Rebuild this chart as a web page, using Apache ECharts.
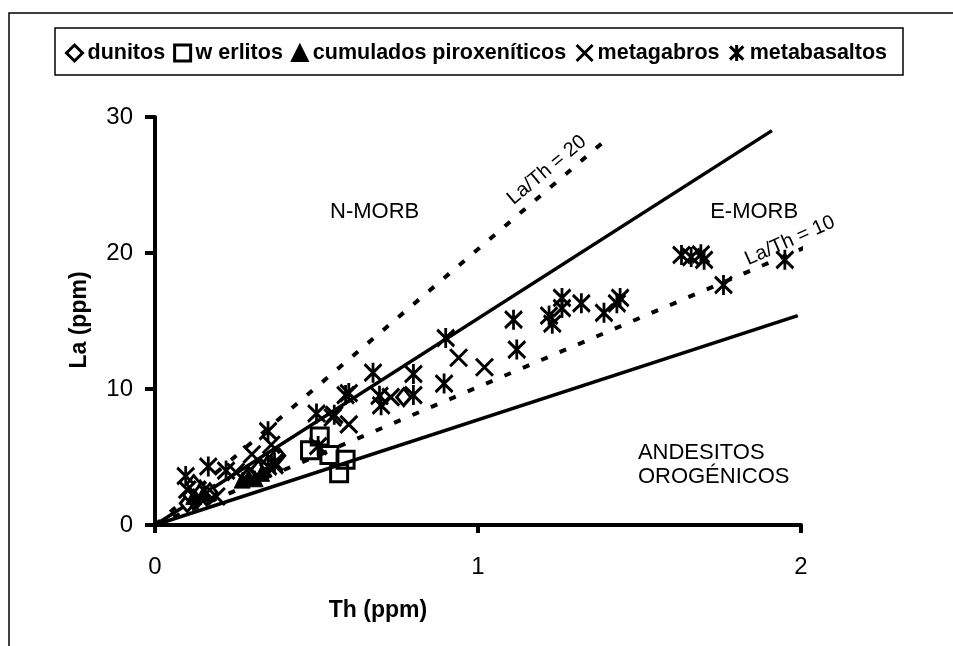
<!DOCTYPE html>
<html><head><meta charset="utf-8">
<script src="https://cdn.jsdelivr.net/npm/echarts@6/dist/echarts.min.js"></script>
<style>html,body{margin:0;padding:0;background:#fff}#c{width:953px;height:646px}</style>
</head><body><div id="c"></div>
<script>
// ---- data (Th ppm, La ppm) ----
const seriesNames = ['dunitos', 'w erlitos', 'cumulados piroxeníticos', 'metagabros', 'metabasaltos'];
const dunitos = [[0.10,1.6],[0.11,2.2],[0.13,1.9],[0.14,2.6],[0.16,2.1],[0.17,2.4],[0.12,3.0],[0.29,3.6],[0.32,4.1],[0.35,4.4],[0.38,5.1],[0.77,9.4]];
const werlitos = [[0.51,6.5],[0.48,5.5],[0.54,5.15],[0.59,4.8],[0.57,3.8]];
const cumulados = [[0.27,3.3],[0.29,3.5],[0.31,3.4],[0.33,3.8],[0.12,2.1],[0.15,2.3]];
const metagabros = [[0.10,2.6],[0.16,2.35],[0.19,2.1],[0.25,3.9],[0.30,5.2],[0.36,5.9],[0.37,4.4],[0.55,7.9],[0.60,7.4],[0.73,9.4],[0.94,12.3],[1.02,11.6]];
const metabasaltos = [[0.095,3.6],[0.165,4.3],[0.22,4.0],[0.35,4.3],[0.37,4.6],[0.35,6.9],[0.50,8.2],[0.505,5.8],[0.555,8.1],[0.60,9.7],[0.59,9.55],[0.675,11.2],[0.695,9.5],[0.70,8.8],[0.80,11.1],[0.80,9.55],[0.90,13.75],[0.895,10.4],[1.11,15.1],[1.12,12.9],[1.22,15.4],[1.23,14.8],[1.26,16.7],[1.26,15.95],[1.32,16.3],[1.39,15.6],[1.44,16.7],[1.43,16.3],[1.63,19.85],[1.66,19.7],[1.70,19.5],[1.69,19.9],[1.76,17.65],[1.95,19.5]];
// reference lines (start, end)
const lineUpperSolid = [[0,0],[1.91,29]];
const lineLaTh20 = [[0,0],[1.39,28.2]];
const lineLaTh10 = [[0,0],[2.09,21.2]];
const lineLowerSolid = [[0,0],[1.99,15.4]];
const xTicks = [0, 1, 2];
const yTicks = [0, 10, 20, 30];

const FONT = 'Arial, "Liberation Sans", sans-serif';
const chart = echarts.init(document.getElementById('c'), null, {renderer: 'canvas'});

const X_PATH = 'path://M0,0L10,10M10,0L0,10';
const AST_PATH = 'path://M0,0L10,10M10,0L0,10M5,-1L5,11';

function scatter(name, data, symbol, size, style) {
  return {type: 'scatter', name, data, symbol, symbolSize: size,
    itemStyle: Object.assign({opacity: 1}, style), z: 5,
    emphasis: {disabled: true}};
}
function refLine(data, dashed) {
  return {type: 'line', data, symbol: 'none', clip: false, silent: true, z: 3,
    lineStyle: {color: '#000', width: dashed ? 4 : 3.5, type: dashed ? [7, 13] : 'solid', cap: 'butt', opacity: 1}};
}

const option = {
  animation: false,
  backgroundColor: '#fff',
  grid: {left: 155, top: 117, width: 646, height: 408, containLabel: false},
  xAxis: {
    type: 'value', min: 0, max: 2, interval: 1,
    axisLine: {lineStyle: {color: '#000', width: 4}},
    axisTick: {show: true, length: 8, lineStyle: {color: '#000', width: 4}},
    splitLine: {show: false},
    axisLabel: {color: '#000', fontSize: 24, fontFamily: FONT, margin: 30,
      formatter: v => xTicks.includes(v) ? String(v) : ''}
  },
  yAxis: {
    type: 'value', min: 0, max: 30, interval: 10,
    axisLine: {show: true, lineStyle: {color: '#000', width: 4}},
    axisTick: {show: true, length: 10, lineStyle: {color: '#000', width: 4}},
    splitLine: {show: false},
    axisLabel: {color: '#000', fontSize: 24, fontFamily: FONT, margin: 22,
      formatter: v => yTicks.includes(v) ? String(v) : ''}
  },
  legend: {
    left: 60, top: 37, itemWidth: 16, itemHeight: 16, itemGap: 8,
    data: [
      {name: seriesNames[0], itemStyle: {borderWidth: 3, opacity: 1}},
      {name: seriesNames[1], itemStyle: {borderWidth: 3, opacity: 1}},
      {name: seriesNames[2], itemStyle: {opacity: 1}},
      {name: seriesNames[3], itemStyle: {borderWidth: 3, opacity: 1}},
      {name: seriesNames[4], itemStyle: {borderWidth: 3, opacity: 1}}
    ],
    textStyle: {color: '#000', fontSize: 21.5, fontWeight: 'bold', fontFamily: '"Liberation Sans Narrow", "Arial Narrow", Arial, sans-serif'},
    selectedMode: false
  },
  series: [
    refLine(lineUpperSolid, false),
    refLine(lineLowerSolid, false),
    refLine(lineLaTh20, true),
    refLine(lineLaTh10, true),
    scatter(seriesNames[0], dunitos, 'diamond', [14, 17], {color: '#fff', borderColor: '#000', borderWidth: 3}),
    scatter(seriesNames[1], werlitos, 'rect', 17, {color: 'rgba(255,255,255,0)', borderColor: '#000', borderWidth: 3}),
    scatter(seriesNames[2], cumulados, 'triangle', 16, {color: '#000', borderColor: '#000', borderWidth: 1}),
    scatter(seriesNames[3], metagabros, X_PATH, 17, {color: 'none', borderColor: '#000', borderWidth: 3}),
    scatter(seriesNames[4], metabasaltos, AST_PATH, [17, 20], {color: 'none', borderColor: '#000', borderWidth: 3})
  ]
};
chart.setOption(option);

function px(p) { return chart.convertToPixel({gridIndex: 0}, p); }
function label(p, text, size, rotDeg, align) {
  const q = px(p);
  return {type: 'text', x: q[0], y: q[1], rotation: (rotDeg || 0) * Math.PI / 180, z: 20,
    style: {text, fill: '#000', font: size + 'px ' + FONT, textAlign: align || 'center', textVerticalAlign: 'middle', lineHeight: 24}};
}
chart.setOption({
  graphic: [
    {type: 'polyline', shape: {points: [[9, 646], [9, 13], [953, 13]]}, style: {stroke: '#000', lineWidth: 1.5, fill: null}},
    {type: 'rect', shape: {x: 55, y: 28, width: 848, height: 47}, style: {stroke: '#000', lineWidth: 1.5, fill: null}, z: 1},
    label([0.68, 23.0], 'N-MORB', 22),
    label([1.855, 23.0], 'E-MORB', 22),
    label([1.213, 26.1], 'La/Th = 20', 20, 40),
    label([1.966, 20.9], 'La/Th = 10', 20, 24),
    label([1.495, 4.4], 'ANDESITOS\nOROGÉNICOS', 22, 0, 'left'),
    {type: 'text', x: 80, y: 320, rotation: Math.PI / 2, style: {text: 'La (ppm)', fill: '#000', font: 'bold 23px ' + FONT, textAlign: 'center', textVerticalAlign: 'middle'}},
    {type: 'text', x: 378, y: 611, style: {text: 'Th (ppm)', fill: '#000', font: 'bold 23px ' + FONT, textAlign: 'center', textVerticalAlign: 'middle'}}
  ]
});
</script></body></html>
